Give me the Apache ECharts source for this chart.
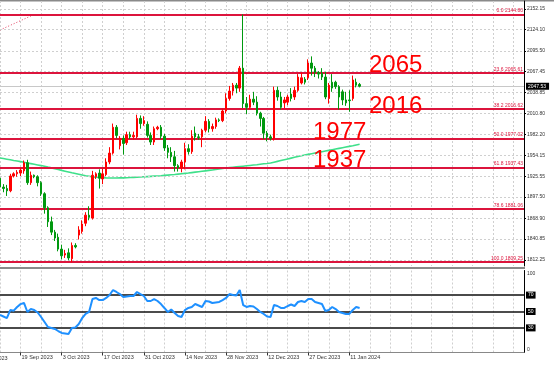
<!DOCTYPE html>
<html><head><meta charset="utf-8">
<script src="https://cdn.jsdelivr.net/npm/echarts@6/dist/echarts.min.js"></script>
<style>html,body{margin:0;padding:0;background:#fff}#c{width:554px;height:365px}</style>
</head><body><div id="c"></div>
<script>
const priceTicks = [1812.25,1840.85,1868.90,1897.50,1925.55,1954.15,1982.20,2010.80,2038.85,2067.45,2095.50,2124.10,2152.15];
const dateTicks = ['19 Sep 2023','3 Oct 2023','17 Oct 2023','31 Oct 2023','14 Nov 2023','28 Nov 2023','12 Dec 2023','27 Dec 2023','11 Jan 2024'];
const dateTickIndex = [6,18,30,42,54,66,78,90,102];
const fibRatios = ['0.0','23.6','38.2','50.0','61.8','78.6','100.0'];
const fibLevels = [2144.80,2065.61,2016.62,1977.02,1937.43,1881.06,1809.25];
const fibTrend = [2123.7,2144.80];
const annotations = ['2065','2016','1977','1937'];
const lastPrice = 2047.53;
const rsiLevels = [70,50,30];
const rsiBounds = [100,0];

const opens  = [1923,1911,1909,1906,1926,1929,1930,1933,1944,1917,1927,1925,1917,1902,1883,1864,1850,1843,1827,1819,1822,1814,1832,1846,1851,1862,1873,1869,1925,1930,1922,1928,1945,1957,1992,1967,1977,1971,1982,1979,1979,2004,1997,1996,1981,1972,1990,1992,1980,1964,1958,1952,1940,1937,1945,1963,1959,1984,1979,1979,1988,2000,1990,1993,2002,2001,2014,2031,2041,2049,2045,2072,2024,2019,2030,2026,2011,2004,1984,1979,1977,2042,2033,2025,2026,2037,2033,2042,2052,2057,2059,2079,2072,2066,2065,2060,2031,2053,2053,2047,2040,2029,2029,2031,2053,2050];
const closes = [1911,1909,1906,1926,1929,1931,1934,1944,1917,1927,1925,1917,1902,1883,1864,1850,1842,1827,1818,1821,1815,1832,1830,1853,1861,1873,1870,1927,1929,1923,1929,1945,1957,1992,1981,1977,1970,1982,1979,1981,2004,1997,2001,1981,1972,1990,1992,1980,1964,1958,1952,1940,1937,1945,1963,1959,1980,1979,1978,1988,2000,1990,1993,2002,2001,2014,2031,2041,2049,2045,2072,2024,2019,2030,2026,2011,2004,1984,1979,1977,2042,2033,2019,2029,2033,2031,2042,2060,2059,2053,2079,2072,2066,2064,2060,2033,2049,2045,2047,2033,2029,2025,2028,2056,2049,2047.53];
const lows   = [1906,1904,1899,1904,1924,1925,1926,1929,1914,1914,1923,1912,1899,1875,1857,1846,1838,1824,1813,1815,1812,1809.25,1828,1840,1848,1858,1866,1867,1922,1909,1915,1926,1942,1955,1977,1962,1955,1968,1976,1975,1977,1990,1994,1978,1968,1968,1988,1976,1960,1950,1945,1932,1932,1931,1935,1955,1956,1974,1975,1965,1985,1985,1986,1990,1999,1999,2011,2028,2035,2038,2040,2018,2010,2016,2022,2008,1993,1976,1973,1974,1974,2028,2016,2018,2022,2027,2029,2040,2050,2050,2056,2062,2060,2058,2056,2030,2024,2040,2044,2016,2022,2021,2013,2028,2046,2046];
const highs  = [1925,1915,1914,1929,1931,1934,1937,1947,1948,1932,1928,1927,1919,1904,1885,1871,1853,1848,1833,1826,1828,1836,1835,1858,1866,1877,1885,1933,1931,1935,1936,1950,1965,1997,1995,1980,1981,1986,1986,1986,2009,2008,2007,2000,1985,1993,1994,1995,1983,1968,1965,1960,1942,1948,1971,1969,1988,1993,1983,1990,2007,2003,1997,2005,2004,2017,2038,2048,2052,2052,2075,2144.80,2033,2036,2040,2034,2013,2006,1987,1982,2047,2047,2040,2033,2036,2045,2047,2064,2066,2060,2084,2088,2075,2068,2072,2067,2052,2064,2055,2049,2043,2040,2042,2062,2058,2052];
const ma200 = [1950.4,1949.6,1948.8,1948.0,1947.1,1946.3,1945.5,1944.6,1943.6,1942.8,1941.9,1941.0,1940.1,1939.1,1938.0,1937.0,1935.9,1934.8,1933.6,1932.5,1931.4,1930.3,1929.3,1928.3,1927.3,1926.4,1925.6,1924.8,1924.3,1923.9,1923.6,1923.4,1923.3,1923.3,1923.3,1923.4,1923.5,1923.7,1923.9,1924.2,1924.4,1924.6,1924.9,1925.2,1925.5,1925.8,1926.1,1926.4,1926.8,1927.2,1927.6,1928.0,1928.5,1929.0,1929.5,1930.0,1930.6,1931.2,1931.8,1932.4,1933.0,1933.6,1934.2,1934.8,1935.4,1936.1,1936.8,1937.3,1937.8,1938.3,1938.8,1939.3,1939.8,1940.3,1940.8,1941.3,1941.9,1942.5,1943.0,1943.6,1944.7,1945.8,1946.9,1948.0,1949.1,1950.2,1951.3,1952.4,1953.5,1954.4,1955.3,1956.2,1957.1,1958.0,1958.9,1959.8,1960.7,1961.6,1962.5,1963.4,1964.3,1965.2,1966.1,1967.0,1968.0,1969.0];
const rsi = [45.7,43.9,42,51.8,51,55.5,59,60.4,49.4,53,51.8,48.8,43.3,37.2,31.1,29.9,28.7,26.2,23.8,23.2,22.6,29.9,30.5,34.8,42.1,47,49.4,65.2,66.5,64,64,66.5,70.1,76.2,73.8,71.3,67.7,68.3,68.9,68.9,73.8,71.3,68.9,62.8,62.8,65.2,62.8,59.1,54.3,49.4,52.4,48.2,44.5,43.3,51.8,54.3,55.5,59.1,57.3,55.5,62.8,62.2,60.4,61,61.6,64,66.5,71.3,70.1,69.5,76.2,57.9,55.5,56.7,56.1,53,49.4,47,43.9,43.3,57.9,56.7,54.3,54.3,56.7,58.5,56.7,61.6,62.8,61.6,65.2,65.2,61.6,60.4,59.1,50.6,51.8,55.5,53,49.4,48.2,47,47,51.8,55.5,54.3];

const SLOTS = 154;
const categories = Array.from({length: SLOTS}, (_, i) => String(i));
const tickMap = {};
dateTickIndex.forEach((k, j) => { tickMap[k] = dateTicks[j]; });
const candles = opens.map((o, i) => [o, closes[i], lows[i], highs[i]]);

const FONT = 'Liberation Sans';
const CRIMSON = '#dc143c';
const chart = echarts.init(document.getElementById('c'), null, {renderer: 'canvas'});

const gridLineStyle = {type: [2, 2], color: '#cfcfcf', width: 1};
const levelLabel = (txt) => ({show: true, position: 'end', formatter: txt, backgroundColor: '#000', color: '#fff', fontSize: 5, fontFamily: FONT, padding: [1, 2], distance: 2});

chart.setOption({
  animation: false,
  backgroundColor: '#ffffff',
  grid: [
    {left: 0, top: 1, width: 524, height: 265},
    {left: 0, top: 270.5, width: 524, height: 82}
  ],
  xAxis: [
    {type: 'category', gridIndex: 0, data: categories, boundaryGap: false,
     axisLine: {show: false}, axisTick: {show: false}, axisLabel: {show: false},
     splitLine: {show: true, interval: 5, lineStyle: gridLineStyle}},
    {type: 'category', gridIndex: 1, data: categories, boundaryGap: false,
     axisLine: {show: true, lineStyle: {color: '#888', width: 1}},
     axisTick: {show: true, length: 3, interval: (i) => tickMap[i] !== undefined, lineStyle: {color: '#333'}},
     axisLabel: {show: true, interval: (i) => tickMap[i] !== undefined,
       formatter: (v, i) => tickMap[i] || '', align: 'left', margin: 2,
       fontSize: 5.5, color: '#333', fontFamily: FONT, padding: [0, 0, 0, 1]},
     splitLine: {show: true, interval: 5, lineStyle: gridLineStyle}}
  ],
  yAxis: [
    {type: 'value', gridIndex: 0, position: 'right', min: 1804.13, max: 2162.98,
     axisLine: {show: true, lineStyle: {color: '#000', width: 1}},
     axisTick: {show: true, length: 2, customValues: priceTicks, lineStyle: {color: '#000'}},
     axisLabel: {show: true, customValues: priceTicks, formatter: (v) => v.toFixed(2),
       fontSize: 5, color: '#333', fontFamily: FONT, margin: 3},
     splitLine: {show: false}},
    {type: 'value', gridIndex: 1, position: 'right', min: 0, max: 100,
     axisLine: {show: true, lineStyle: {color: '#000', width: 1}},
     axisTick: {show: false}, axisLabel: {show: false}, splitLine: {show: false}}
  ],
  series: [
    {type: 'line', xAxisIndex: 0, yAxisIndex: 0, data: [], silent: true,
     markLine: {silent: true, symbol: 'none', animation: false,
       lineStyle: gridLineStyle, label: {show: false},
       data: priceTicks.map(v => ({yAxis: v}))}},
    {type: 'line', xAxisIndex: 0, yAxisIndex: 0, data: [], silent: true, z: 3,
     markLine: {silent: true, symbol: 'none', animation: false,
       lineStyle: {color: CRIMSON, width: 2, type: 'solid'},
       data: fibLevels.map((v, k) => ({yAxis: v,
         label: {show: true, position: 'insideEndTop', formatter: fibRatios[k] + ' ' + v.toFixed(2),
           fontSize: 5, color: CRIMSON, fontFamily: FONT, distance: [1, 1]}}))}},
    {type: 'line', xAxisIndex: 0, yAxisIndex: 0, silent: true, symbol: 'none', z: 3,
     data: [[categories[0], fibTrend[0]], [categories[10], fibTrend[1]]],
     lineStyle: {color: CRIMSON, width: 1, type: [1, 2], opacity: 0.8}},
    {type: 'line', name: 'MA', xAxisIndex: 0, yAxisIndex: 0, data: ma200, symbol: 'none', z: 4,
     lineStyle: {color: '#3ee08a', width: 1.6}},
    {type: 'candlestick', xAxisIndex: 0, yAxisIndex: 0, data: candles, z: 5,
     barWidth: 2,
     itemStyle: {color: '#ff0000', color0: '#00990f', borderColor: '#ff0000', borderColor0: '#00990f', borderWidth: 1},
     markLine: {silent: true, symbol: 'none', animation: false,
       lineStyle: {color: '#c8c8c8', width: 1, type: 'solid'},
       data: [{yAxis: lastPrice, label: {show: true, position: 'end', formatter: lastPrice.toFixed(2),
         backgroundColor: '#000', color: '#fff', fontSize: 5, fontFamily: FONT, padding: [1, 3, 1, 2], distance: 2}}]}},
    {type: 'line', name: 'RSI', xAxisIndex: 1, yAxisIndex: 1, data: rsi, symbol: 'none', z: 5,
     lineStyle: {color: '#1e90ff', width: 2},
     markLine: {silent: true, symbol: 'none', animation: false,
       data: [
         {yAxis: rsiLevels[0], lineStyle: {color: '#4a4a4a', width: 2, type: 'solid'}, label: levelLabel(String(rsiLevels[0]))},
         {yAxis: rsiLevels[1], lineStyle: {color: '#111', width: 1.5, type: 'solid'}, label: levelLabel(String(rsiLevels[1]))},
         {yAxis: rsiLevels[2], lineStyle: {color: '#4a4a4a', width: 2, type: 'solid'}, label: levelLabel(String(rsiLevels[2]))},
         {yAxis: rsiBounds[0], lineStyle: {color: 'rgba(0,0,0,0)', width: 0},
          label: {show: true, position: 'end', formatter: String(rsiBounds[0]), color: '#333', fontSize: 5, fontFamily: FONT, distance: 3, offset: [0, 3]}},
         {yAxis: rsiBounds[1], lineStyle: {color: 'rgba(0,0,0,0)', width: 0},
          label: {show: true, position: 'end', formatter: String(rsiBounds[1]), color: '#333', fontSize: 5, fontFamily: FONT, distance: 3, offset: [0, -3]}}
       ]}}
  ],
  graphic: [
    {type: 'rect', shape: {x: 0, y: 0, width: 554, height: 1.5}, style: {fill: '#8a8a8a'}, silent: true},
    {type: 'rect', shape: {x: 0, y: 267, width: 525, height: 2}, style: {fill: '#8a8a8a'}, silent: true},
    {type: 'text', x: -20.5, y: 355, style: {text: '5 Sep 2023', fontSize: 5.5, fill: '#333', fontFamily: FONT}, silent: true},
    {type: 'text', x: 369, y: 65, style: {text: annotations[0], fontSize: 24, fill: '#ff0000', fontFamily: FONT, verticalAlign: 'middle'}, z: 10},
    {type: 'text', x: 369, y: 106, style: {text: annotations[1], fontSize: 24, fill: '#ff0000', fontFamily: FONT, verticalAlign: 'middle'}, z: 10},
    {type: 'text', x: 313, y: 132.5, style: {text: annotations[2], fontSize: 24, fill: '#ff0000', fontFamily: FONT, verticalAlign: 'middle'}, z: 10},
    {type: 'text', x: 313, y: 160, style: {text: annotations[3], fontSize: 24, fill: '#ff0000', fontFamily: FONT, verticalAlign: 'middle'}, z: 10}
  ]
});
</script>
</body></html>
